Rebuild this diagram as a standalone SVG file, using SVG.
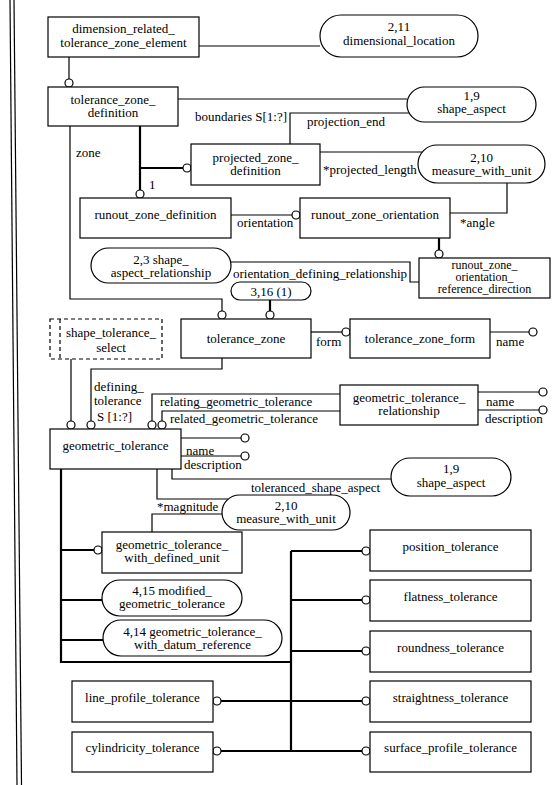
<svg xmlns="http://www.w3.org/2000/svg" width="557" height="785" viewBox="0 0 557 785" font-family="'Liberation Serif', 'Times New Roman', serif">
<style>
.bx{fill:#fff;stroke:#000;stroke-width:1.2}
.ds{fill:#fff;stroke:#000;stroke-width:1.2;stroke-dasharray:4,3}
.dl{stroke:#000;stroke-width:1.2;stroke-dasharray:4,3}
.ln{fill:none;stroke:#000;stroke-width:1.2}
.tk{fill:none;stroke:#000;stroke-width:2.2}
.c{fill:#fff;stroke:#000;stroke-width:1.2}
text{font-family:"Liberation Serif","Times New Roman",serif;font-size:13px;fill:#000}
.m{text-anchor:middle}
.s{font-size:12px}
</style>
<rect width="557" height="785" fill="#fff"/>
<line x1="10" y1="0" x2="17" y2="785" class="ln"/>
<line x1="14" y1="0" x2="21.5" y2="785" class="ln"/>

<g id="connectors">
<path class="ln" d="M199,46H320"/>
<path class="ln" d="M69,57V79"/><circle class="c" cx="69" cy="83" r="4"/>
<path class="ln" d="M178,99H407"/>
<path class="ln" d="M290,144V113H409"/>
<path class="ln" d="M70,126V299H222V311"/><circle class="c" cx="222" cy="315" r="4"/>
<path class="tk" d="M140,126V190M140,168H183"/><circle class="c" cx="140" cy="194" r="4"/><circle class="c" cx="187" cy="168" r="4"/>
<path class="ln" d="M320,152H422"/>
<path class="ln" d="M231,215H292"/><circle class="c" cx="296" cy="215" r="4"/>
<path class="ln" d="M450,213H507V183"/>
<path class="tk" d="M439,238V250"/><circle class="c" cx="439" cy="254" r="4"/>
<path class="ln" d="M231,262H410V282H419"/>
<path class="tk" d="M270,300V311"/><circle class="c" cx="270" cy="315" r="4"/>
<path class="ln" d="M311,332H342"/><circle class="c" cx="346" cy="332" r="4"/>
<path class="ln" d="M490,332H529"/><circle class="c" cx="533" cy="332" r="4"/>
<path class="ln" d="M222,358V369H91V421"/><circle class="c" cx="91" cy="425" r="4"/>
<path class="ln" d="M71,359V421"/><circle class="c" cx="71" cy="425" r="4"/>
<path class="ln" d="M152,421V394H340"/><circle class="c" cx="152" cy="425" r="4"/>
<path class="ln" d="M162,421V411H340"/><circle class="c" cx="162" cy="425" r="4"/>
<path class="ln" d="M478,392H539"/><circle class="c" cx="543" cy="392" r="4"/>
<path class="ln" d="M478,410H539"/><circle class="c" cx="543" cy="410" r="4"/>
<path class="ln" d="M181,438H241"/><circle class="c" cx="245" cy="438" r="4"/>
<path class="ln" d="M181,456H241"/><circle class="c" cx="245" cy="456" r="4"/>
<path class="ln" d="M172,469V479H391"/>
<path class="ln" d="M157,469V499H228"/>
<path class="ln" d="M152,532V514H222"/>
<path class="tk" d="M61,469V662H291M61,550H94M61,600H102M61,640H103"/><circle class="c" cx="98" cy="550" r="4"/>
<path class="tk" d="M291,551V751M291,551H362M291,600H362M291,651H362M291,751H362"/>
<path class="tk" d="M221,701H362M221,751H291"/>
<circle class="c" cx="366" cy="551" r="4"/><circle class="c" cx="366" cy="600" r="4"/><circle class="c" cx="366" cy="651" r="4"/><circle class="c" cx="366" cy="701" r="4"/><circle class="c" cx="366" cy="751" r="4"/>
<circle class="c" cx="217" cy="701" r="4"/><circle class="c" cx="217" cy="751" r="4"/>
<text x="195" y="121">boundaries S[1:?]</text>
<text x="307" y="126">projection_end</text>
<text x="76" y="157">zone</text>
<text x="149" y="189">1</text>
<text x="323" y="173.5">*projected_length</text>
<text x="237" y="226.5">orientation</text>
<text x="460" y="226.5">*angle</text>
<text x="233" y="277.5">orientation_defining_relationship</text>
<text x="316" y="345.5">form</text>
<text x="496" y="345.5">name</text>
<text x="94" y="391">defining_</text>
<text x="94" y="405">tolerance</text>
<text x="97" y="421">S [1:?]</text>
<text x="160" y="405.5">relating_geometric_tolerance</text>
<text x="170" y="422.5">related_geometric_tolerance</text>
<text x="486" y="405.5">name</text>
<text x="485" y="422.5">description</text>
<text x="186" y="454.5">name</text>
<text x="184" y="469">description</text>
<text x="251" y="491.5">toleranced_shape_aspect</text>
<text x="157" y="511">*magnitude</text>
</g>

<g id="dimension_related_tolerance_zone_element"><rect class="bx" x="48" y="17" width="151" height="40"/><text class="m" x="123.5" y="33">dimension_related_</text><text class="m" x="123.5" y="46.5">tolerance_zone_element</text></g>
<g id="dimensional_location"><rect class="bx" x="320" y="15" width="158" height="42" rx="21"/><text class="m" x="399" y="31">2,11</text><text class="m" x="399" y="44.5">dimensional_location</text></g>
<g id="tolerance_zone_definition"><rect class="bx" x="48" y="87" width="130" height="39"/><text class="m" x="113" y="103.5">tolerance_zone_</text><text class="m" x="113" y="116.5">definition</text></g>
<g id="shape_aspect_1"><rect class="bx" x="407" y="87" width="129" height="35" rx="17.5"/><text class="m" x="471.5" y="99.5">1,9</text><text class="m" x="471.5" y="112.5">shape_aspect</text></g>
<g id="projected_zone_definition"><rect class="bx" x="191" y="144" width="129" height="41"/><text class="m" x="255.5" y="161.5">projected_zone_</text><text class="m" x="255.5" y="174.5">definition</text></g>
<g id="measure_with_unit_1"><rect class="bx" x="418" y="145" width="127" height="38" rx="19"/><text class="m" x="481.5" y="161.5">2,10</text><text class="m" x="481.5" y="174.5">measure_with_unit</text></g>
<g id="runout_zone_definition"><rect class="bx" x="80" y="198" width="151" height="40"/><text class="m" x="155.5" y="218.5">runout_zone_definition</text></g>
<g id="runout_zone_orientation"><rect class="bx" x="300" y="198" width="150" height="40"/><text class="m" x="375" y="218.5">runout_zone_orientation</text></g>
<g id="runout_zone_orientation_reference_direction"><rect class="bx" x="419" y="258" width="131" height="40"/><text class="m s" x="484.5" y="268.5">runout_zone_</text><text class="m s" x="484.5" y="280.5">orientation_</text><text class="m s" x="484.5" y="292.5">reference_direction</text></g>
<g id="shape_aspect_relationship"><rect class="bx" x="91" y="248" width="140" height="35" rx="17.5"/><text class="m" x="161" y="264">2,3 shape_</text><text class="m" x="161" y="277">aspect_relationship</text></g>
<g id="ref_3_16"><rect class="bx" x="231" y="282" width="80" height="18" rx="9"/><text class="m" x="271" y="295.5">3,16 (1)</text></g>
<g id="shape_tolerance_select"><rect class="ds" x="50" y="319" width="112" height="40"/><line class="dl" x1="60" y1="319" x2="60" y2="359"/><text class="m" x="111" y="336.5">shape_tolerance_</text><text class="m" x="111" y="351.5">select</text></g>
<g id="tolerance_zone"><rect class="bx" x="181" y="319" width="130" height="39"/><text class="m" x="246" y="342.5">tolerance_zone</text></g>
<g id="tolerance_zone_form"><rect class="bx" x="350" y="319" width="140" height="39"/><text class="m" x="420" y="342.5">tolerance_zone_form</text></g>
<g id="geometric_tolerance"><rect class="bx" x="50" y="429" width="131" height="40"/><text class="m" x="115.5" y="449.5">geometric_tolerance</text></g>
<g id="geometric_tolerance_relationship"><rect class="bx" x="340" y="385" width="138" height="40"/><text class="m" x="409" y="401.5">geometric_tolerance_</text><text class="m" x="409" y="414.5">relationship</text></g>
<g id="shape_aspect_2"><rect class="bx" x="391" y="458" width="120" height="38" rx="19"/><text class="m" x="451" y="472.5">1,9</text><text class="m" x="451" y="486.5">shape_aspect</text></g>
<g id="measure_with_unit_2"><rect class="bx" x="222" y="495" width="128" height="35" rx="17.5"/><text class="m" x="286" y="509.5">2,10</text><text class="m" x="286" y="522.5">measure_with_unit</text></g>
<g id="geometric_tolerance_with_defined_unit"><rect class="bx" x="102" y="532" width="140" height="41"/><text class="m" x="172" y="548.5">geometric_tolerance_</text><text class="m" x="172" y="561.5">with_defined_unit</text></g>
<g id="modified_geometric_tolerance"><rect class="bx" x="102" y="580" width="140" height="36" rx="18"/><text class="m" x="172" y="594.5">4,15 modified_</text><text class="m" x="172" y="607.5">geometric_tolerance</text></g>
<g id="geometric_tolerance_with_datum_reference"><rect class="bx" x="103" y="620" width="179" height="36" rx="18"/><text class="m" x="192.5" y="635.5">4,14 geometric_tolerance_</text><text class="m" x="192.5" y="648.5">with_datum_reference</text></g>
<g id="position_tolerance"><rect class="bx" x="370" y="530" width="161" height="41"/><text class="m" x="450.5" y="550.5">position_tolerance</text></g>
<g id="flatness_tolerance"><rect class="bx" x="370" y="580" width="161" height="41"/><text class="m" x="450.5" y="600.5">flatness_tolerance</text></g>
<g id="roundness_tolerance"><rect class="bx" x="370" y="631" width="161" height="41"/><text class="m" x="450.5" y="651.5">roundness_tolerance</text></g>
<g id="straightness_tolerance"><rect class="bx" x="370" y="681" width="161" height="41"/><text class="m" x="450.5" y="701.5">straightness_tolerance</text></g>
<g id="surface_profile_tolerance"><rect class="bx" x="370" y="732" width="161" height="40"/><text class="m" x="450.5" y="751.5">surface_profile_tolerance</text></g>
<g id="line_profile_tolerance"><rect class="bx" x="72" y="681" width="141" height="41"/><text class="m" x="142.5" y="701.5">line_profile_tolerance</text></g>
<g id="cylindricity_tolerance"><rect class="bx" x="72" y="732" width="141" height="40"/><text class="m" x="142.5" y="751.5">cylindricity_tolerance</text></g>
</svg>
